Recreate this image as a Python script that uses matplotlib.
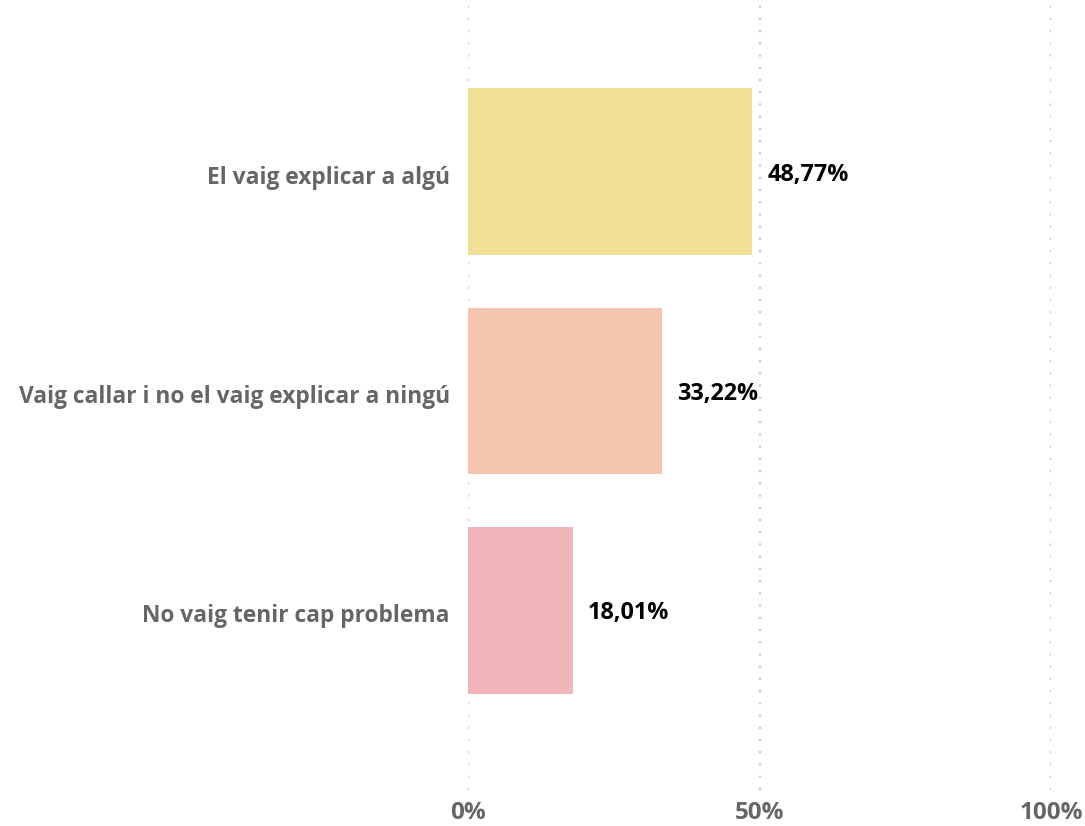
import matplotlib
matplotlib.use("Agg")
import matplotlib.pyplot as plt
from matplotlib.transforms import offset_copy, ScaledTranslation

categories = ["El vaig explicar a algú", "Vaig callar i no el vaig explicar a ningú", "No vaig tenir cap problema"]
values = [48.77, 33.22, 18.01]
value_labels = ["48,77%", "33,22%", "18,01%"]
colors = ["#F0DF97", "#F3C4AE", "#F0B5B9"]
xticks = [0, 50, 100]
xtick_labels = ["0%", "50%", "100%"]

plt.rcParams['font.family'] = ['Open Sans', 'DejaVu Sans']

W, H = 1085, 826
fig = plt.figure(figsize=(W/100, H/100), dpi=100)
left, right, top, bottom = 468, 1051, 5, 790
ax = fig.add_axes([left/W, 1-bottom/H, (right-left)/W, (bottom-top)/H])

ypos = list(range(len(categories)))
ax.barh(ypos, values, height=0.76, color=colors, zorder=2)
ax.set_xlim(0, 100)
ax.set_ylim(2.818, -0.759)

for x in xticks:
    ax.axvline(x, color="#C8C8C8", linestyle=(0, (1, 4.5)), linewidth=1.6, zorder=1)

for y, v, lab in zip(ypos, values, value_labels):
    ax.text(v, y, lab, transform=offset_copy(ax.transData, fig=fig, x=15, y=-3, units='dots'),
            va='center', ha='left', fontsize=16.8, fontweight='bold', color='black')

ax.set_yticks(ypos)
ax.set_yticklabels(categories, fontsize=16.4, fontweight='bold', color='#666666')
ax.set_xticks(xticks)
ax.set_xticklabels(xtick_labels, fontsize=17.5, fontweight='bold', color='#666666')
ax.tick_params(axis='both', length=0)
ax.tick_params(axis='y', pad=13)
ax.tick_params(axis='x', pad=8)
shift = ScaledTranslation(0, -3/100, fig.dpi_scale_trans)
for lbl in ax.get_yticklabels():
    lbl.set_transform(lbl.get_transform() + shift)
for s in ax.spines.values():
    s.set_visible(False)

fig.savefig("out.png", dpi=100, facecolor='white')
